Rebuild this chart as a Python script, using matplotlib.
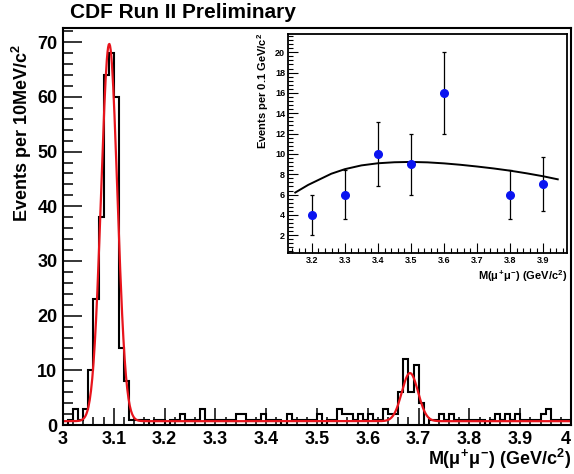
import numpy as np
import matplotlib.pyplot as plt
from matplotlib.ticker import MultipleLocator, FormatStrFormatter

plt.rcParams['font.family'] = ['Liberation Sans', 'DejaVu Sans']
plt.rcParams['font.weight'] = 'bold'
plt.rcParams['mathtext.fontset'] = 'custom'
plt.rcParams['mathtext.rm'] = 'Liberation Sans:bold'
plt.rcParams['mathtext.it'] = 'Liberation Sans'
plt.rcParams['mathtext.bf'] = 'Liberation Sans:bold'

# dimuon mass histogram, 10 MeV bins from 3.0 to 4.0 GeV
counts = [0, 1, 3, 1, 3, 10, 23, 38, 64, 68,
          60, 14, 8, 1, 1, 1, 1, 0, 1, 1,
          0, 1, 1, 2, 1, 1, 1, 3, 1, 1,
          1, 1, 1, 1, 2, 2, 1, 1, 1, 2,
          1, 1, 1, 0, 2, 1, 1, 1, 1, 1,
          2, 0, 1, 1, 3, 2, 2, 1, 2, 1,
          2, 1, 1, 3, 2, 2, 6, 12, 6, 11,
          4, 0, 1, 1, 2, 1, 2, 1, 1, 1,
          1, 1, 1, 0, 1, 2, 1, 2, 1, 2,
          1, 1, 1, 1, 2, 3, 1, 1, 1, 1]
mass_lo, mass_hi = 3.0, 4.0
mass_ticks = [3.0, 3.1, 3.2, 3.3, 3.4, 3.5, 3.6, 3.7, 3.8, 3.9, 4.0]

# fit: flat background + two gaussians (J/psi, psi(2S))
fit_bg = 0.7
jpsi_amp, jpsi_mean, jpsi_sigma = 69.0, 3.091, 0.016
psi2s_amp, psi2s_mean, psi2s_sigma = 8.8, 3.683, 0.016

# inset: events per 0.1 GeV
inset_x = [3.2, 3.3, 3.4, 3.5, 3.6, 3.8, 3.9]
inset_y = [4, 6, 10, 9, 16, 6, 7]
inset_err = [2.0, 2.45, 3.16, 3.0, 4.0, 2.45, 2.65]
# inset fit curve
curve_x = [3.150, 3.189, 3.224, 3.259, 3.3, 3.35, 3.4, 3.45, 3.5, 3.55,
           3.6, 3.65, 3.7, 3.75, 3.8, 3.85, 3.9, 3.944]
curve_y = [6.2, 6.95, 7.5, 8.05, 8.5, 8.87, 9.08, 9.18, 9.21, 9.17,
           9.07, 8.93, 8.76, 8.57, 8.35, 8.09, 7.8, 7.5]

W, H = 574, 474
fig = plt.figure(figsize=(W / 100, H / 100), dpi=100)

def fx(px):
    return px / W

def fy(py):
    return 1 - py / H

# main pad
ax = fig.add_axes([fx(63), fy(425), fx(571) - fx(63), fy(28) - fy(425)])
edges = np.linspace(mass_lo, mass_hi, len(counts) + 1)
ax.stairs(counts, edges, color='black', lw=1.5)

xf = np.linspace(mass_lo, mass_hi, 800)
yf = (fit_bg
      + jpsi_amp * np.exp(-0.5 * ((xf - jpsi_mean) / jpsi_sigma) ** 2)
      + psi2s_amp * np.exp(-0.5 * ((xf - psi2s_mean) / psi2s_sigma) ** 2))
ax.plot(xf, yf, color='#e8141c', lw=1.6)

ax.set_xlim(mass_lo, mass_hi)
ax.set_ylim(0, 72.6)
ax.set_xticks(mass_ticks)
ax.xaxis.set_minor_locator(MultipleLocator(0.02))
ax.yaxis.set_major_locator(MultipleLocator(10))
ax.yaxis.set_minor_locator(MultipleLocator(2))
ax.xaxis.set_major_formatter(FormatStrFormatter('%g'))
ax.tick_params(axis='both', which='both', direction='in', width=1.1,
               top=False, right=False, labelsize=13)
ax.tick_params(axis='y', which='major', length=14, pad=4)
ax.tick_params(axis='y', which='minor', length=7)
ax.tick_params(axis='x', which='major', length=12, pad=4)
ax.tick_params(axis='x', which='minor', length=6)
ax.get_xticklabels()[-1].set_horizontalalignment('right')
for s in ax.spines.values():
    s.set_linewidth(1.5)

fig.text(fx(70), fy(13), 'CDF Run II Preliminary', fontsize=15,
         fontweight='bold', ha='left', va='center')
fig.text(fx(22), fy(44), r'Events per 10MeV/c$^{2}$', fontsize=13,
         fontweight='bold', rotation=90, ha='center', va='top')
fig.text(fx(571), fy(465), r'M($\mu^{+}\mu^{-}$) (GeV/c$^{2}$)',
         fontsize=13, fontweight='bold', ha='right', va='baseline')

# inset pad
ax2 = fig.add_axes([fx(288), fy(253), fx(567) - fx(288), fy(34) - fy(253)])
ax2.plot(curve_x, curve_y, color='black', lw=1.4)
ax2.errorbar(inset_x, inset_y, yerr=inset_err, fmt='o', color='#0a14f0',
             ms=5.5, ecolor='black', elinewidth=0.9, capsize=1.5,
             capthick=0.9)
ax2.set_xlim(3.128, 3.972)
ax2.set_ylim(0.25, 21.8)
ax2.xaxis.set_major_locator(MultipleLocator(0.1))
ax2.xaxis.set_minor_locator(MultipleLocator(0.02))
ax2.yaxis.set_major_locator(MultipleLocator(2))
ax2.yaxis.set_minor_locator(MultipleLocator(0.4))
ax2.set_yticks([2, 4, 6, 8, 10, 12, 14, 16, 18, 20])
ax2.xaxis.set_major_formatter(FormatStrFormatter('%g'))
ax2.tick_params(axis='both', which='both', direction='in', width=0.8,
                top=False, right=False, labelsize=6.5)
ax2.tick_params(axis='both', which='major', length=7, pad=2)
ax2.tick_params(axis='both', which='minor', length=3.5)
for s in ax2.spines.values():
    s.set_linewidth(1.3)

fig.text(fx(263), fy(33), r'Events per 0.1 GeV/c$^{2}$', fontsize=8,
         fontweight='bold', rotation=90, ha='center', va='top')
fig.text(fx(567), fy(276), r'M($\mu^{+}\mu^{-}$) (GeV/c$^{2}$)',
         fontsize=8, fontweight='bold', ha='right', va='center')

fig.savefig('out.png', dpi=100)
